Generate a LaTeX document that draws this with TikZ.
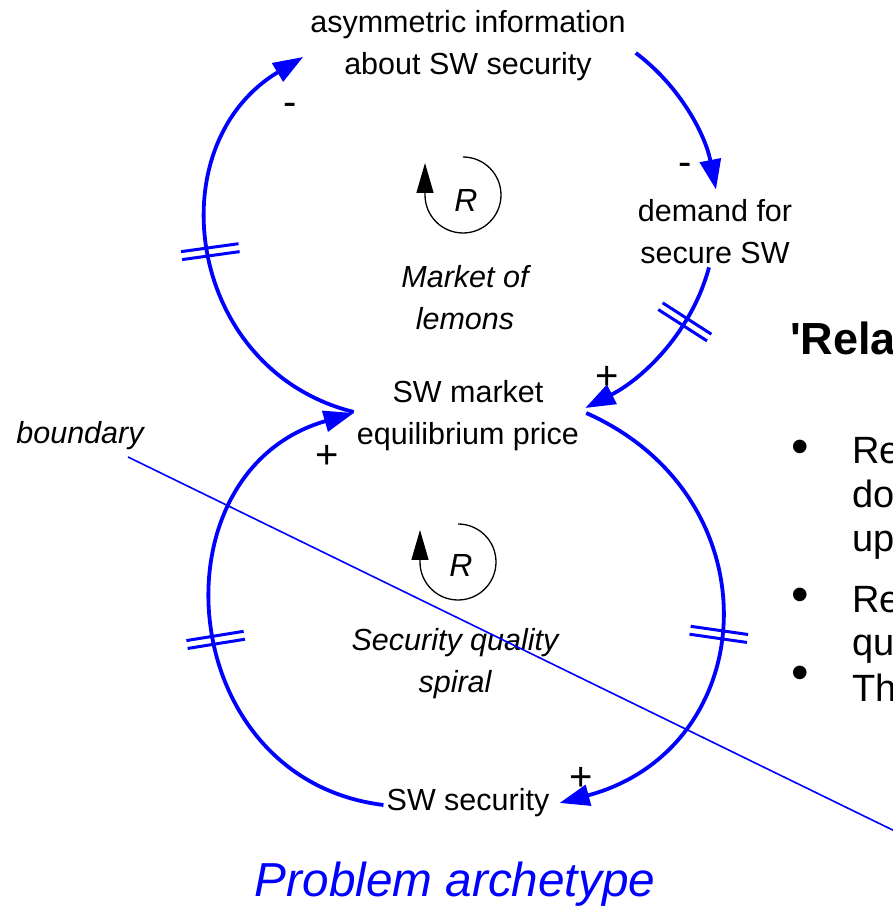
\documentclass[tikz,border=0pt]{standalone}
\usepackage{fontspec}
\setmainfont{Liberation Sans}
\newfontfamily\headfont{Liberation Sans}[Ligatures=TeXOff]
\usetikzlibrary{arrows.meta,decorations.markings}
\definecolor{cldblue}{RGB}{0,0,255}
\newcommand\dgfont{\fontsize{30.5}{42}\selectfont}
\tikzset{
  var/.style={align=center, font=\dgfont, inner sep=3pt},
  looplbl/.style={align=center, font=\dgfont\itshape, inner sep=0pt},
  pol/.style={font=\fontsize{40}{42}\selectfont, inner sep=0pt},
  link/.style={draw=cldblue, line width=3.8pt, -{Triangle[length=30pt,width=21pt]}},
  delay/.style={postaction={decorate, decoration={markings,
      mark=at position #1 with {\draw[-, draw=cldblue, line width=3pt]
        (-4pt,-29pt) -- (-4pt,29pt) (4pt,-29pt) -- (4pt,29pt);}}}},
  loopicon/.style={draw=black, line width=1.3pt, -{Triangle[length=30pt,width=17pt]}},
  rlbl/.style={font=\fontsize{32}{34}\selectfont\itshape, inner sep=0pt},
  side/.style={font=\fontsize{38}{44}\selectfont, anchor=base west, inner sep=0pt},
  bullet/.style={font=\fontsize{50}{50}\selectfont, inner sep=0pt},
}
\begin{document}
\begin{tikzpicture}[x=1pt,y=1pt]
\useasboundingbox (0,0) rectangle (893,908);
\clip (0,0) rectangle (893,908);

% variables
\node[var] (asym)   at (468,862) {asymmetric information\\about SW security};
\node[var] (demand) at (715,676) {demand for\\secure SW};
\node[var] (price)  at (468,492) {SW market\\equilibrium price};
\node[var] (sec)    at (468,105) {SW security};

% loop names
\node[looplbl] (lemons) at (465,610) {Market of\\lemons};
\node[looplbl] (spiral) at (455,244) {Security quality\\spiral};

% reinforcing loop icons
\coordinate (r1) at (463,713);
\coordinate (r2) at (458,346);
\draw[loopicon] ([shift={(90:38)}]r1) arc[start angle=90, end angle=-180, radius=38] -- ++(0,32);
\draw[loopicon] ([shift={(90:38)}]r2) arc[start angle=90, end angle=-180, radius=38] -- ++(0,32);
\node[rlbl] (r1lbl) at (466,708) {R};
\node[rlbl] (r2lbl) at (461,343) {R};

% causal links
\draw[link, delay=0.5] ([yshift=4pt]price.west) to[out=166, in=211, looseness=1.23] ([xshift=-4pt,yshift=-11pt]asym.west);
\draw[link] ([xshift=7pt,yshift=-7pt]asym.east) to[out=-37, in=101, looseness=0.9] ([xshift=1pt,yshift=7pt]demand.north);
\draw[link, delay=0.31] ([xshift=-6pt]demand.south) to[out=255, in=27, looseness=0.9] ([xshift=3pt,yshift=8pt]price.east);
\draw[link, delay=0.53] ([xshift=4pt,yshift=3pt]price.east) to[out=-24, in=15, looseness=1.37] ([xshift=7pt]sec.east);
\draw[link, delay=0.465] ([yshift=-2pt]sec.west) to[out=173, in=196, looseness=1.38] ([yshift=3pt]price.west);

% polarities
\node[pol] (p1) at (290,799) {-};
\node[pol] (p2) at (685,739) {-};
\node[pol] (p3) at (607,530) {+};
\node[pol] (p4) at (327,451) {+};
\node[pol] (p5) at (581,129) {+};

% boundary
\node[font=\dgfont\itshape, inner sep=0pt] (bnd) at (80,472) {boundary};
\coordinate (bStart) at (128,451);
\coordinate (bEnd) at (950,50);
\draw[cldblue, line width=1.6pt] (bStart) -- (bEnd);

% title
\node[font=\fontsize{47.7}{50}\selectfont\itshape, text=cldblue, inner sep=0pt] (title) at (455,24) {Problem archetype};

% text beside the diagram
\node[font=\fontsize{45}{48}\selectfont\headfont\bfseries, anchor=base west, inner sep=0pt] (head) at (790,553) {'Rela};
\node[bullet] (b1) at (800,456) {•};
\node[side] (l1) at (852,444) {Re};
\node[side] (l2) at (852,400) {do};
\node[side] (l3) at (852,356) {up};
\node[bullet] (b2) at (800,308) {•};
\node[side] (l4) at (852,295) {Re};
\node[side] (l5) at (852,252) {qu};
\node[bullet] (b3) at (800,230) {•};
\node[side] (l6) at (852,206) {Th};
\end{tikzpicture}
\end{document}
